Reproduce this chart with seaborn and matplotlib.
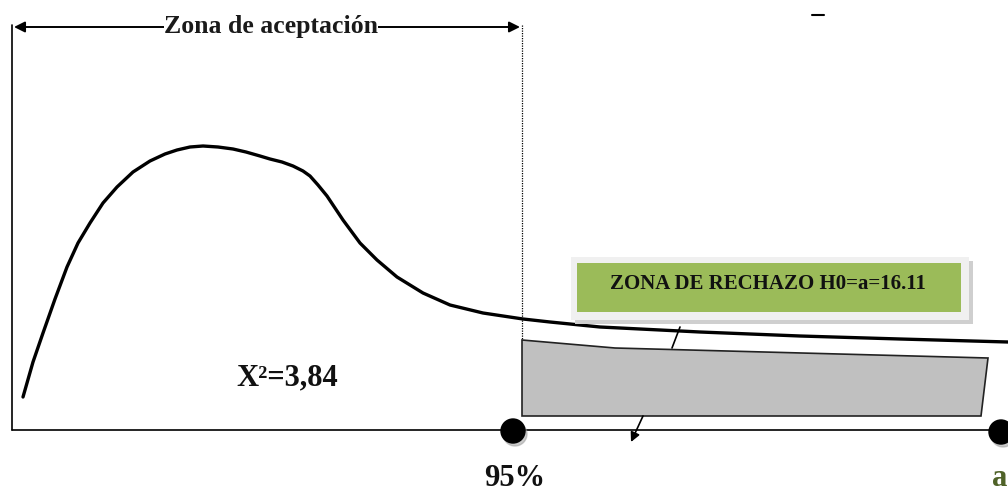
import numpy as np
import pandas as pd
import seaborn as sns
import matplotlib.pyplot as plt
from matplotlib.patches import Polygon, Rectangle, Circle

# Chi-square acceptance / rejection diagram (drawn in pixel space)

curve_x = [23, 33, 43, 55, 67, 78, 90, 103, 117, 133, 150, 165, 177, 190, 203,
           218, 233, 246, 260, 270, 282, 293, 303, 310, 318, 327, 343, 360, 377,
           397, 423, 450, 483, 523, 550, 600, 700, 800, 900, 1008]
curve_y = [397, 362, 333, 299, 267, 243, 223, 203, 187, 172, 161, 154, 150, 147,
           146, 147, 149, 152, 156, 159, 162, 166, 171, 176, 185, 196, 220, 243,
           260, 277, 293, 305, 313, 319, 322, 327, 332, 336, 339, 342]

reject_x = [522, 615, 988, 981, 522]
reject_y = [340, 348, 358, 416, 416]

accept_label = "Zona de aceptación"
reject_label = "ZONA DE RECHAZO H0=a=16.11"
chi_label = "X²=3,84"
pct_label = "95%"
end_label = "a"

df = pd.DataFrame({"x": curve_x, "y": curve_y})

sns.set_style("white")
plt.rcParams["font.family"] = ["Liberation Serif", "DejaVu Serif"]

fig = plt.figure(figsize=(10.08, 4.91), dpi=100)
ax = fig.add_axes([0, 0, 1, 1])
ax.set_xlim(0, 1008)
ax.set_ylim(491, 0)
ax.axis("off")

# density curve
sns.lineplot(data=df, x="x", y="y", ax=ax, color="black", linewidth=2.4,
             sort=False, estimator=None, solid_capstyle="round",
             solid_joinstyle="round")

# axes of the diagram
ax.plot([12, 12], [25, 430], color="black", linewidth=1.2)
ax.plot([12, 1008], [430, 430], color="black", linewidth=1.2)
ax.plot([522, 522], [25, 340], color="black", linewidth=0.9, linestyle=(0, (1, 1)))

# rejection region
ax.add_patch(Polygon(list(zip(reject_x, reject_y)), closed=True,
                     facecolor="#c0c0c0", edgecolor="#222222", linewidth=1.2, zorder=3))

# points
for cx, cy in [(513, 431), (1001, 432)]:
    ax.add_patch(Circle((cx + 2, cy + 3), 12, color="#999999", alpha=0.5, zorder=4))
    ax.add_patch(Circle((cx, cy), 12, color="black", zorder=5))

# acceptance arrow
ax.annotate("", xy=(14, 27), xytext=(520, 27),
            arrowprops=dict(arrowstyle="<|-|>", color="black", lw=1.4,
                            mutation_scale=16, shrinkA=0, shrinkB=0))
ax.text(271, 26, accept_label, ha="center", va="center", fontsize=18.5,
        fontweight="bold", color="#1a1a1a",
        bbox=dict(facecolor="white", edgecolor="none", pad=0))
ax.plot([812, 824], [15, 15], color="black", linewidth=1.5)

# green label box with shadow
ax.add_patch(Rectangle((575, 261), 398, 63, facecolor="#cfcfcf", edgecolor="none", zorder=5))
ax.add_patch(Rectangle((571, 257), 398, 63, facecolor="#f0f0f0", edgecolor="none", zorder=6))
ax.add_patch(Rectangle((577, 263), 384, 49, facecolor="#9bbb59", edgecolor="none", zorder=7))
ax.text(768, 284, reject_label, ha="center", va="center", fontsize=15,
        fontweight="bold", color="#111111", zorder=8)

# callout pointers
ax.plot([680, 672], [327, 348], color="black", linewidth=1.2, zorder=8)
ax.annotate("", xy=(631, 442), xytext=(643, 416),
            arrowprops=dict(arrowstyle="-|>", color="black", lw=1.2,
                            mutation_scale=14, shrinkA=0, shrinkB=0))

# texts
ax.text(287, 378, chi_label, ha="center", va="center", fontsize=22,
        fontweight="bold", color="#111111")
ax.text(515, 478, pct_label, ha="center", va="center", fontsize=22,
        fontweight="bold", color="#111111")
ax.text(992, 478, end_label, ha="left", va="center", fontsize=22,
        fontweight="bold", color="#4f6228")

fig.savefig("out.png", dpi=100)
